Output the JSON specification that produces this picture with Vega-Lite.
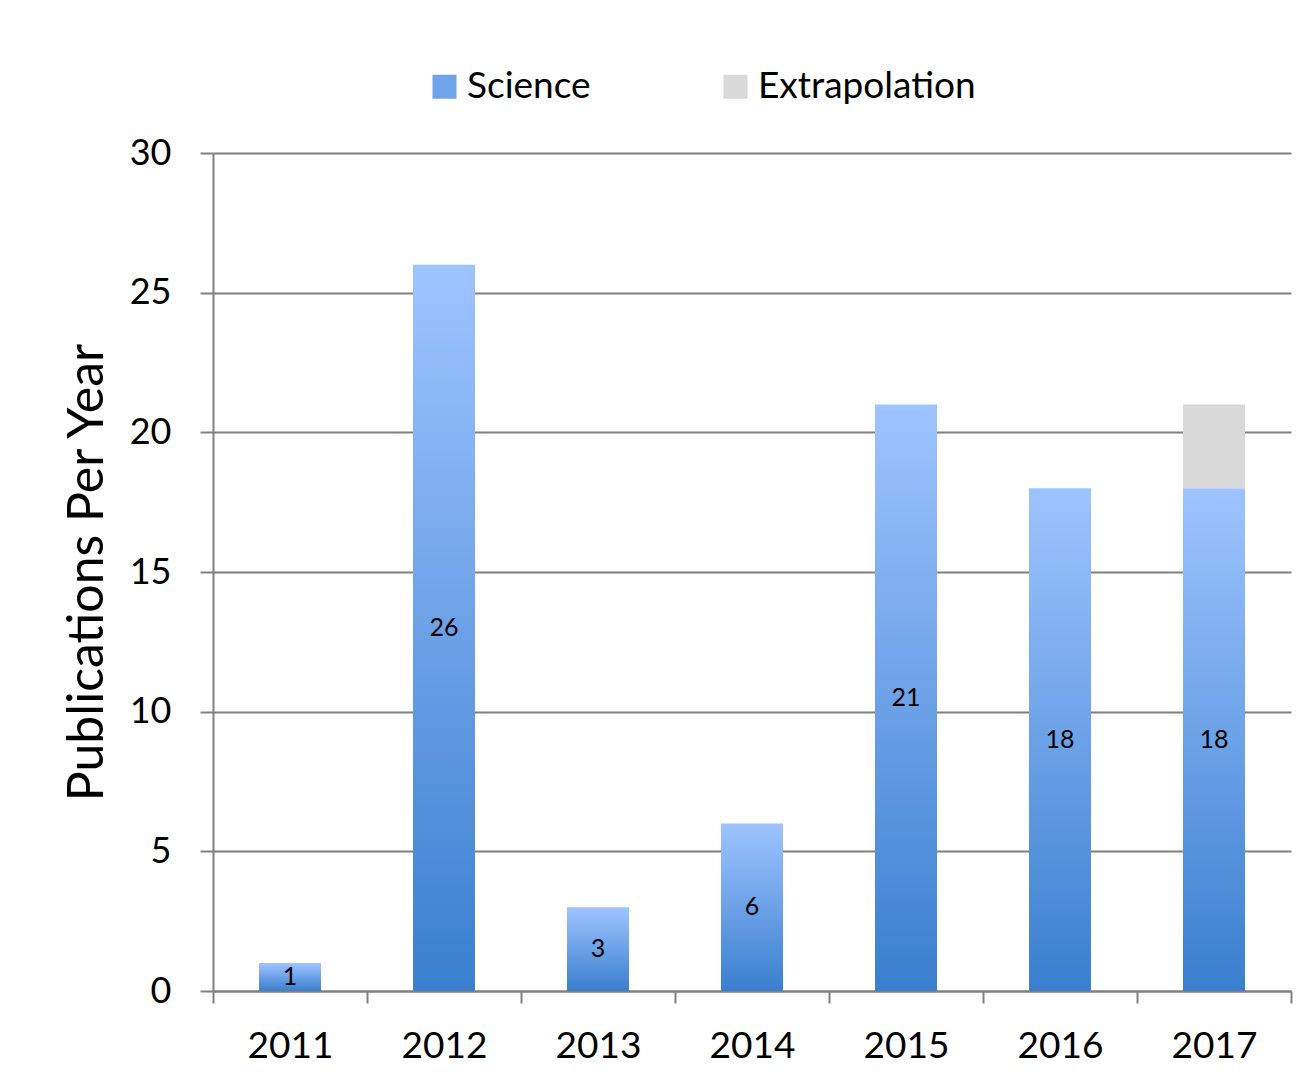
{
  "$schema": "https://vega.github.io/schema/vega-lite/v6.json",
  "autosize": "none",
  "width": 1078,
  "height": 838,
  "padding": {"left": 213, "top": 153, "right": 25, "bottom": 93},
  "background": "white",
  "config": {
    "font": "Lato",
    "view": {"stroke": null},
    "axis": {"labelColor": "black", "titleColor": "black", "labelFont": "Lato", "titleFont": "Lato"}
  },
  "data": {
    "values": [
      {"year": 2011, "series": "Science", "count": 1},
      {"year": 2012, "series": "Science", "count": 26},
      {"year": 2013, "series": "Science", "count": 3},
      {"year": 2014, "series": "Science", "count": 6},
      {"year": 2015, "series": "Science", "count": 21},
      {"year": 2016, "series": "Science", "count": 18},
      {"year": 2017, "series": "Science", "count": 18},
      {"year": 2017, "series": "Extrapolation", "count": 3}
    ]
  },
  "encoding": {
    "x": {
      "field": "year",
      "type": "quantitative",
      "scale": {"domain": [2010.5, 2017.5], "nice": false, "zero": false, "padding": 0},
      "axis": {
        "title": null,
        "values": [2010.5, 2011.5, 2012.5, 2013.5, 2014.5, 2015.5, 2016.5, 2017.5],
        "labelExpr": "datum.value < 2017 ? format(datum.value + 0.5, 'd') : ''",
        "labelOffset": 77,
        "labelOverlap": false,
        "labelFlush": false,
        "labelBound": false,
        "labelFontSize": 37,
        "labelPadding": 25,
        "tickSize": 12,
        "tickWidth": 2,
        "tickColor": "#808080",
        "domainColor": "#808080",
        "domainWidth": 2,
        "grid": false
      }
    }
  },
  "layer": [
    {
      "mark": {"type": "bar", "size": 62},
      "encoding": {
        "y": {
          "field": "count",
          "type": "quantitative",
          "stack": "zero",
          "scale": {"domain": [0, 30], "nice": false},
          "axis": {
            "title": "Publications Per Year",
            "titleFontSize": 50,
            "titleFontWeight": "normal",
            "titleX": -111,
            "titleBaseline": "alphabetic",
            "values": [0, 5, 10, 15, 20, 25, 30],
            "labelFontSize": 36,
            "labelPadding": 29,
            "tickSize": 13,
            "tickWidth": 2,
            "tickColor": "#808080",
            "domainColor": "#808080",
            "domainWidth": 2,
            "grid": true,
            "gridColor": "#808080",
            "gridWidth": 2
          }
        },
        "order": {"field": "series", "sort": "descending"},
        "fill": {
          "condition": {
            "test": "datum.series === 'Science'",
            "value": {"gradient": "linear", "x1": 0, "y1": 0, "x2": 0, "y2": 1, "stops": [{"offset": 0, "color": "#9EC4FF"}, {"offset": 1, "color": "#3A7FCF"}]}
          },
          "value": "#D9D9D9"
        }
      }
    },
    {
      "transform": [{"filter": "datum.series === 'Science'"}],
      "mark": {"type": "text", "fontSize": 25, "font": "Lato", "color": "black", "baseline": "middle"},
      "encoding": {
        "y": {"field": "count", "type": "quantitative", "stack": "zero", "bandPosition": 0.5},
        "text": {"field": "count", "type": "quantitative"}
      }
    },
    {
      "mark": {"type": "square", "filled": true, "opacity": 0, "size": 1},
      "encoding": {
        "y": {"field": "count", "type": "quantitative", "stack": "zero"},
        "order": {"field": "series", "sort": "descending"},
        "color": {
          "field": "series",
          "type": "nominal",
          "scale": {"domain": ["Science", "Extrapolation"], "range": ["#6FA4EC", "#D9D9D9"]},
          "legend": {
            "title": null,
            "orient": "none",
            "direction": "horizontal",
            "legendX": 213,
            "legendY": -85,
            "symbolType": "square",
            "symbolSize": 576,
            "symbolStrokeWidth": 0,
            "symbolOpacity": 1,
            "labelFontSize": 37,
            "labelLimit": 0,
            "labelFont": "Lato",
            "labelColor": "black",
            "labelOffset": 4,
            "columnPadding": 126,
            "encode": {
              "symbols": {
                "update": {
                  "opacity": {"value": 1}
                }
              }
            }
          }
        }
      }
    }
  ]
}
